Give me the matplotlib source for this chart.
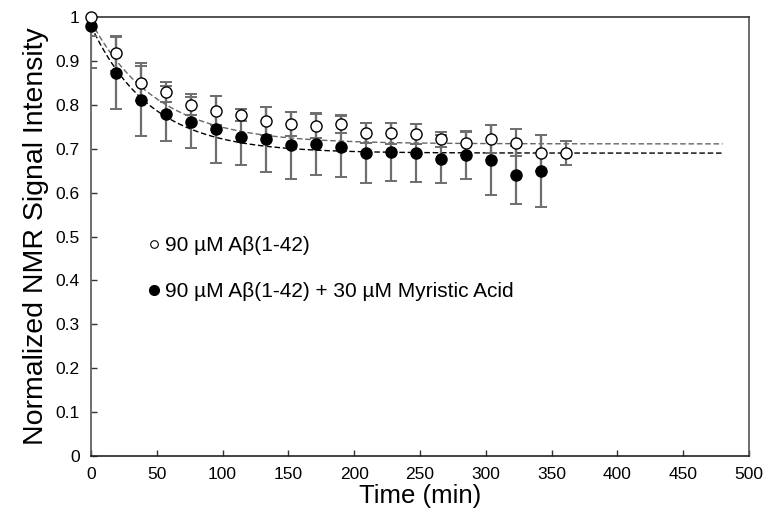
import numpy as np
import matplotlib
matplotlib.use("Agg")
import matplotlib.pyplot as plt
from matplotlib.ticker import MultipleLocator, FuncFormatter

plt.rcParams['font.family'] = ['Liberation Sans', 'DejaVu Sans']

# time points (min)
time_open = [0, 19, 38, 57, 76, 95, 114, 133, 152, 171, 190, 209, 228, 247, 266, 285, 304, 323, 342, 361]
time_myr = [0, 19, 38, 57, 76, 95, 114, 133, 152, 171, 190, 209, 228, 247, 266, 285, 304, 323, 342]

# 90 uM Abeta(1-42)
ab_mean = [1.0, 0.917, 0.849, 0.830, 0.800, 0.787, 0.777, 0.764, 0.756, 0.752,
           0.756, 0.735, 0.735, 0.733, 0.722, 0.712, 0.722, 0.714, 0.690, 0.690]
ab_err = [0.044, 0.039, 0.040, 0.023, 0.024, 0.032, 0.013, 0.032, 0.028, 0.027,
          0.021, 0.023, 0.024, 0.023, 0.017, 0.027, 0.032, 0.030, 0.041, 0.027]

# 90 uM Abeta(1-42) + 30 uM myristic acid
myr_mean = [0.980, 0.873, 0.812, 0.780, 0.760, 0.744, 0.727, 0.721, 0.708, 0.711,
            0.705, 0.690, 0.693, 0.691, 0.676, 0.686, 0.674, 0.640, 0.650]
myr_err = [0.096, 0.082, 0.083, 0.062, 0.058, 0.077, 0.064, 0.073, 0.076, 0.071,
           0.070, 0.069, 0.066, 0.066, 0.055, 0.054, 0.080, 0.066, 0.082]

# single exponential fits: y = plateau + (y0 - plateau) * exp(-k t)
fit_ab = dict(y0=0.99, plateau=0.711, k=0.020)
fit_myr = dict(y0=0.98, plateau=0.690, k=0.022)

fig = plt.figure(figsize=(7.67, 5.31), dpi=100)
ax = fig.add_axes([0.1186, 0.1412, 0.8579, 0.8268])

t_fit = np.linspace(0, 480, 300)
for p, col in [(fit_ab, '#666666'), (fit_myr, 'black')]:
    y_fit = p['plateau'] + (p['y0'] - p['plateau']) * np.exp(-p['k'] * t_fit)
    ax.plot(t_fit, y_fit, color=col, lw=1.0, ls=(0, (4, 2)), zorder=2)

ebar = dict(fmt='none', ecolor='#6e6e6e', elinewidth=1.6, capsize=4, capthick=1.4, zorder=3)
ax.errorbar(time_open, ab_mean, yerr=ab_err, **ebar)
ax.errorbar(time_myr, myr_mean, yerr=myr_err, **ebar)

ax.plot(time_myr, myr_mean, 'o', ms=8, mfc='black', mec='black', ls='none', zorder=4, clip_on=False)
ax.plot(time_open, ab_mean, 'o', ms=8, mfc='white', mec='black', mew=1.0, ls='none', zorder=5, clip_on=False)

# legend entries
ax.plot([], [], 'o', ms=5.5, mfc='white', mec='black', mew=0.8, ls='none',
        label='90 \u00b5M A\u03b2(1-42)')
ax.plot([], [], 'o', ms=7, mfc='black', mec='black', ls='none',
        label='90 \u00b5M A\u03b2(1-42) + 30 \u00b5M Myristic Acid')
handles, labels = ax.get_legend_handles_labels()
ax.legend(handles[-2:], labels[-2:], loc='upper left', bbox_to_anchor=(0.052, 0.543),
          frameon=False, fontsize=15, handletextpad=0.0, handlelength=1.0,
          labelspacing=1.3)

ax.set_xlim(0, 500)
ax.set_ylim(0, 1)
ax.xaxis.set_major_locator(MultipleLocator(50))
ax.yaxis.set_major_locator(MultipleLocator(0.1))
ax.yaxis.set_major_formatter(FuncFormatter(lambda v, pos: f"{v:.1f}".rstrip('0').rstrip('.') if v else "0"))
ax.tick_params(direction='in', length=4, width=1, labelsize=12.5, color='#333333', pad=8)

for s in ax.spines.values():
    s.set_color('#555555')
    s.set_linewidth(1.2)
ax.spines['bottom'].set_color('#222222')
ax.spines['top'].set_color('#333333')

ax.set_xlabel('Time (min)', fontsize=18.5, labelpad=1)
ax.set_ylabel('Normalized NMR Signal Intensity', fontsize=20.5, labelpad=5)

fig.savefig('out.png', dpi=100)
